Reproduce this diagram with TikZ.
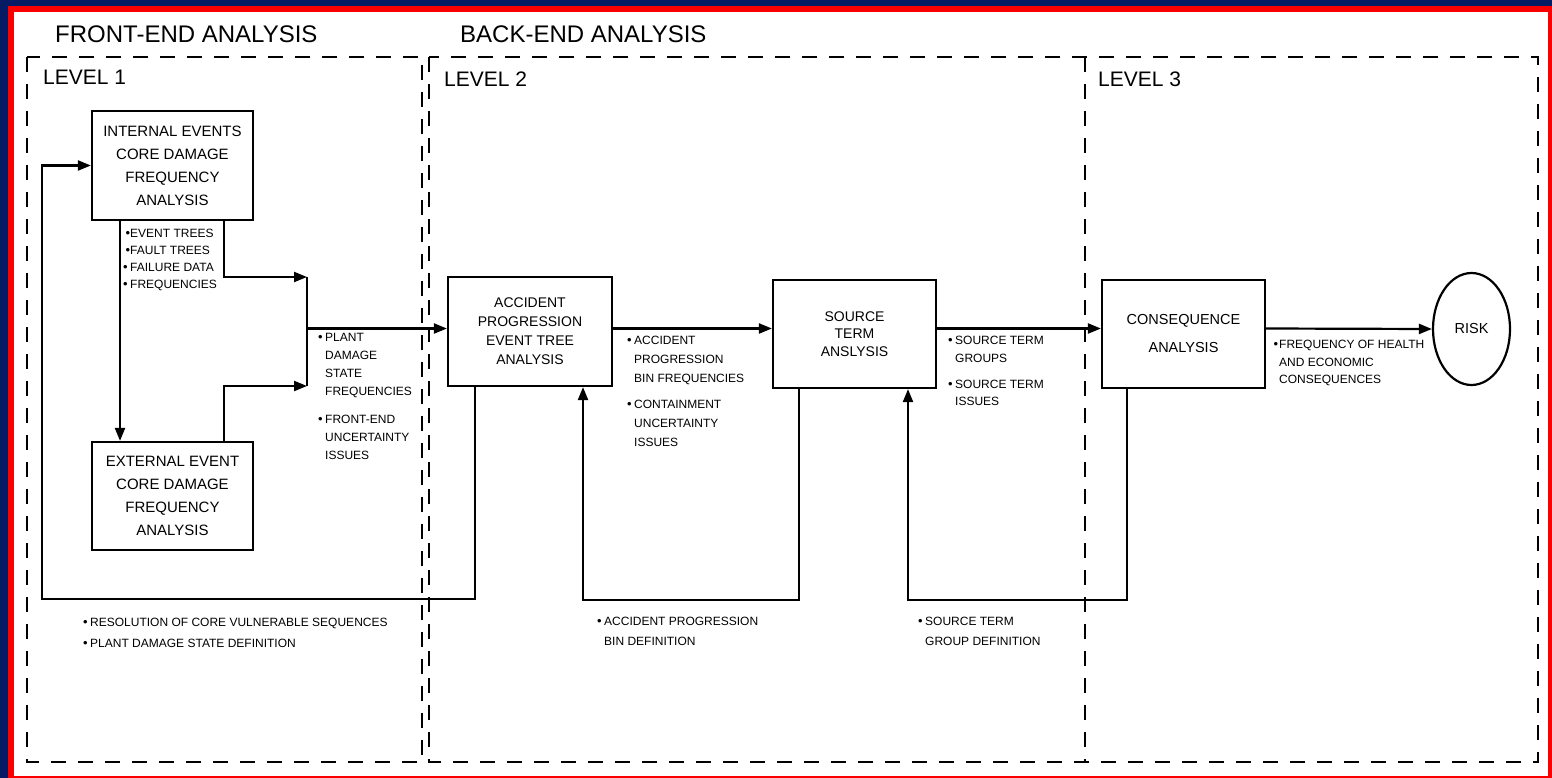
\documentclass[tikz,border=0pt]{standalone}
\usepackage{fontspec}
\setmainfont{Liberation Sans}
\usetikzlibrary{arrows.meta,shapes.geometric}
\definecolor{navy}{RGB}{5,28,100}
\definecolor{framered}{RGB}{250,0,0}
\newcommand{\bul}{\llap{\fontsize{13}{13}\selectfont•\hspace{2.5pt}}}
\begin{document}
\begin{tikzpicture}[x=1pt,y=-1pt,
  box/.style={draw, line width=2.2pt, inner sep=0pt, align=center},
  arr/.style={line width=2.2pt, -{Triangle[length=13pt,width=10pt]}},
  conn/.style={line width=2.2pt},
  region/.style={line width=2.5pt, dash pattern=on 15pt off 12pt},
  title/.style={anchor=west, inner sep=0pt, font=\fontsize{24}{28}\selectfont},
  lvl/.style={anchor=west, inner sep=0pt, font=\fontsize{21}{25}\selectfont},
  note/.style={anchor=north west, inner sep=0pt, align=left},
]
\useasboundingbox (0,0) rectangle (1552,778);
\fill[navy] (0,0) rectangle (1552,778);
\fill[framered] (8,6) rectangle (1552,778);
\fill[white] (14,12) rectangle (1548,776);

% regions
\draw[region] (27,57) rectangle (422,762);
\draw[region] (429,57) rectangle (1538,762);
\draw[region] (1085,57) -- (1085,762);

% titles
\node[title] (tfe) at (55,34) {FRONT-END ANALYSIS};
\node[title] (tbe) at (460,34) {BACK-END ANALYSIS};
\node[lvl] (lv1) at (43,77) {LEVEL 1};
\node[lvl] (lv2) at (444,79) {LEVEL 2};
\node[lvl] (lv3) at (1098,79) {LEVEL 3};

% boxes
\node[box, minimum width=161pt, minimum height=109pt, font=\fontsize{15}{23}\selectfont] (ie) at (172.5,165.5) {INTERNAL EVENTS\\CORE DAMAGE\\FREQUENCY\\ANALYSIS};
\node[box, minimum width=161pt, minimum height=108pt, font=\fontsize{15}{23}\selectfont] (ee) at (172.5,496) {EXTERNAL EVENT\\CORE DAMAGE\\FREQUENCY\\ANALYSIS};
\node[box, minimum width=164pt, minimum height=109pt, font=\fontsize{14}{19}\selectfont] (ap) at (530,331.5) {ACCIDENT\\PROGRESSION\\EVENT TREE\\ANALYSIS};
\node[box, minimum width=163pt, minimum height=108pt, font=\fontsize{14}{17.5}\selectfont] (st) at (854.5,334) {SOURCE\\TERM\\ANSLYSIS};
\node[box, minimum width=163pt, minimum height=108pt, font=\fontsize{14.5}{28}\selectfont] (cq) at (1183.5,334) {CONSEQUENCE\\ANALYSIS};
\node[draw, ellipse, line width=2.2pt, minimum width=77pt, minimum height=112pt, inner sep=0pt, font=\fontsize{14.5}{17}\selectfont] (risk) at (1471.5,329) {RISK};

% coordinates
\coordinate (j1) at (307,277);
\coordinate (j2) at (307,386);
\coordinate (j3) at (307,328.5);
\coordinate (ml) at (0,328.5);
\coordinate (l1a) at (475,599);
\coordinate (l1b) at (42,599);
\coordinate (l1c) at (42,165.5);
\coordinate (l2a) at (799,600);
\coordinate (l2b) at (583,600);
\coordinate (l3a) at (1127,600);
\coordinate (l3b) at (908,600);

% connectors
\draw[arr] ([xshift=-52.5pt]ie.south) -- ([xshift=-52.5pt]ee.north);
\draw[arr] ([xshift=51.5pt]ie.south) |- (j1);
\draw[arr] ([xshift=51.5pt]ee.north) |- (j2);
\draw[conn] (j1) -- (j2);
\draw[arr] (j3) -- (j3 -| ap.west);
\draw[arr] (ap.east |- ml) -- (st.west |- ml);
\draw[arr] (st.east |- ml) -- (cq.west |- ml);
\draw[arr] (cq.east |- ml) -- (risk.west);
\draw[arr] (ap.south -| l1a) -- (l1a) -- (l1b) -- (l1c) -- (ie.west);
\draw[arr] (st.south -| l2a) -- (l2a) -- (l2b) -- (ap.south -| l2b);
\draw[arr] (cq.south -| l3a) -- (l3a) -- (l3b) -- (st.south -| l3b);

% labels
\node[note, font=\fontsize{12}{17}\selectfont] (n1) at (130,229) {\llap{\fontsize{13}{13}\selectfont•}EVENT TREES\\\llap{\fontsize{13}{13}\selectfont•}FAULT TREES\\\bul FAILURE DATA\\\bul FREQUENCIES};
\node[note, font=\fontsize{12}{18}\selectfont] (n2) at (325,333) {\bul PLANT\\DAMAGE\\STATE\\FREQUENCIES\\[10pt]\bul FRONT-END\\UNCERTAINTY\\ISSUES};
\node[note, font=\fontsize{12}{19}\selectfont] (n3) at (634,336) {\bul ACCIDENT\\PROGRESSION\\BIN FREQUENCIES\\[7pt]\bul CONTAINMENT\\UNCERTAINTY\\ISSUES};
\node[note, font=\fontsize{12}{17.5}\selectfont] (n4) at (955,336) {\bul SOURCE TERM\\GROUPS\\[8.5pt]\bul SOURCE TERM\\ISSUES};
\node[note, font=\fontsize{12}{17.5}\selectfont] (n5) at (1279,340) {\llap{\fontsize{13}{13}\selectfont•\hspace{1pt}}FREQUENCY OF HEALTH\\AND ECONOMIC\\CONSEQUENCES};
\node[note, font=\fontsize{12}{21}\selectfont] (n6) at (90,618) {\bul RESOLUTION OF CORE VULNERABLE SEQUENCES\\\bul PLANT DAMAGE STATE DEFINITION};
\node[note, font=\fontsize{12}{20}\selectfont] (n7) at (604,617) {\bul ACCIDENT PROGRESSION\\BIN DEFINITION};
\node[note, font=\fontsize{12}{20}\selectfont] (n8) at (925,617) {\bul SOURCE TERM\\GROUP DEFINITION};
\end{tikzpicture}
\end{document}
